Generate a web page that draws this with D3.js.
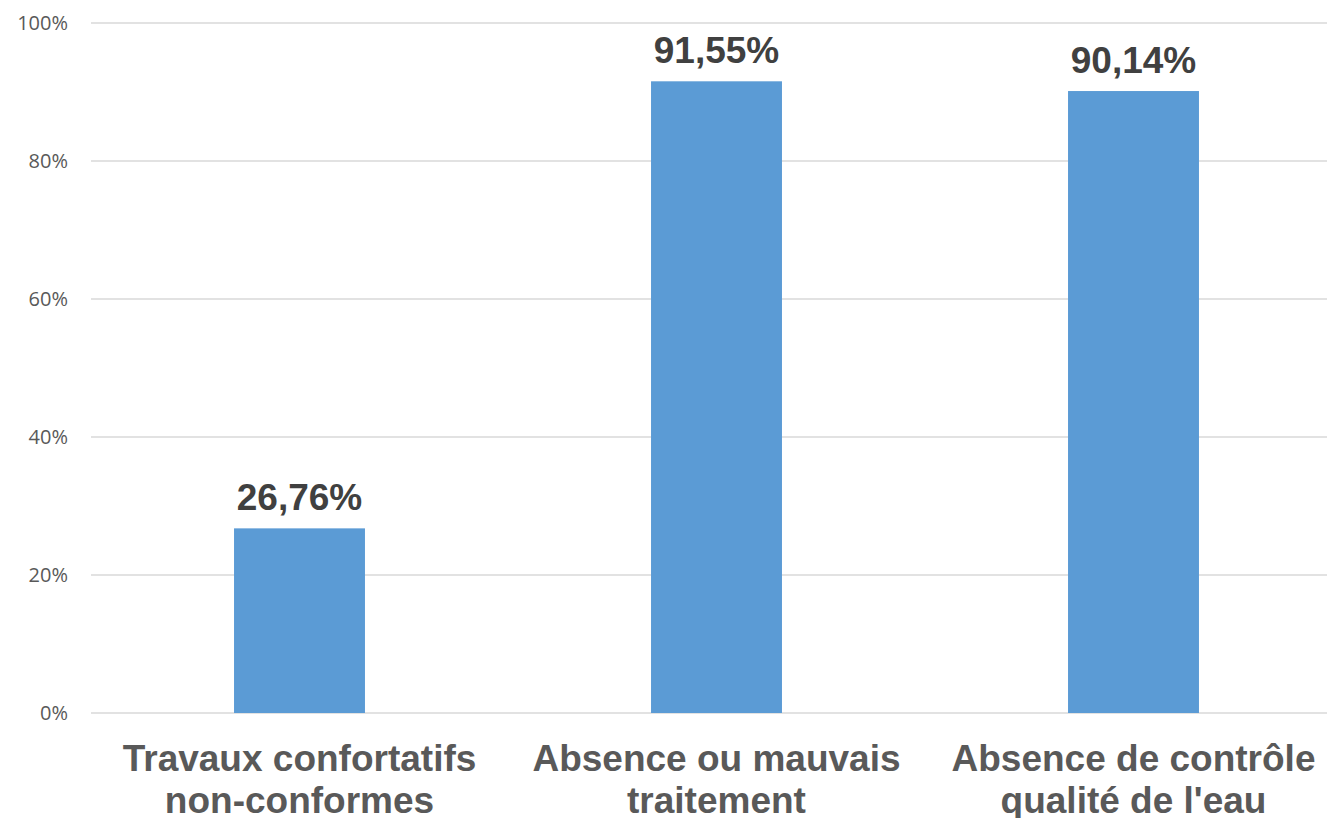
<!DOCTYPE html>
<html>
<head>
<meta charset="utf-8">
<script src="https://cdn.jsdelivr.net/npm/d3@7"></script>
<style>
  body { margin: 0; background: #fff; }
  svg { display: block; }
</style>
</head>
<body>
<svg id="chart"></svg>
<script>
var categories = [
  ['Travaux confortatifs', 'non-conformes'],
  ['Absence ou mauvais', 'traitement'],
  ['Absence de contrôle', "qualité de l'eau"]
];
var values = [26.76, 91.55, 90.14];
var yTicks = [0, 20, 40, 60, 80, 100];

var width = 1327, height = 818;
var plotLeft = 91, plotRight = 1342, plotTop = 23, plotBottom = 713;

var svg = d3.select('#chart')
  .attr('width', width)
  .attr('height', height);

var x = d3.scaleBand()
  .domain(d3.range(categories.length))
  .range([plotLeft, plotRight])
  .paddingInner(0.686)
  .paddingOuter(0.343);

var y = d3.scaleLinear()
  .domain([0, 100])
  .range([plotBottom, plotTop]);

// gridlines
svg.selectAll('.grid')
  .data(yTicks)
  .enter()
  .append('line')
  .attr('class', 'grid')
  .attr('x1', plotLeft)
  .attr('x2', plotRight)
  .attr('y1', function(d) { return y(d); })
  .attr('y2', function(d) { return y(d); })
  .attr('stroke', '#d9d9d9')
  .attr('stroke-width', 1.5);

// y tick labels
svg.selectAll('.ytick')
  .data(yTicks)
  .enter()
  .append('text')
  .attr('class', 'ytick')
  .attr('x', 68)
  .attr('y', function(d) { return y(d) + 7; })
  .attr('text-anchor', 'end')
  .attr('font-family', 'Open Sans, sans-serif')
  .attr('font-size', 20)
  .attr('fill', '#595959')
  .text(function(d) { return d + '%'; });

// bars
svg.selectAll('.bar')
  .data(values)
  .enter()
  .append('rect')
  .attr('class', 'bar')
  .attr('x', function(d, i) { return x(i); })
  .attr('width', x.bandwidth())
  .attr('y', function(d) { return y(d); })
  .attr('height', function(d) { return y(0) - y(d); })
  .attr('fill', '#5b9bd5');

// value labels
svg.selectAll('.val')
  .data(values)
  .enter()
  .append('text')
  .attr('class', 'val')
  .attr('x', function(d, i) { return x(i) + x.bandwidth() / 2; })
  .attr('y', function(d) { return y(d) - 18; })
  .attr('text-anchor', 'middle')
  .attr('font-family', 'Liberation Sans, Arial, sans-serif')
  .attr('font-weight', 'bold')
  .attr('font-size', 37)
  .attr('fill', '#404040')
  .text(function(d) { return d.toFixed(2).replace('.', ',') + '%'; });

// category labels
var cat = svg.selectAll('.cat')
  .data(categories)
  .enter()
  .append('text')
  .attr('class', 'cat')
  .attr('text-anchor', 'middle')
  .attr('font-family', 'Liberation Sans, Arial, sans-serif')
  .attr('font-weight', 'bold')
  .attr('font-size', 37)
  .attr('fill', '#595959');

cat.selectAll('tspan')
  .data(function(d, i) { return d.map(function(t) { return { t: t, i: i }; }); })
  .enter()
  .append('tspan')
  .attr('x', function(d) { return x(d.i) + x.bandwidth() / 2; })
  .attr('y', function(d, j) { return 771 + j * 42; })
  .text(function(d) { return d.t; });
</script>
</body>
</html>
